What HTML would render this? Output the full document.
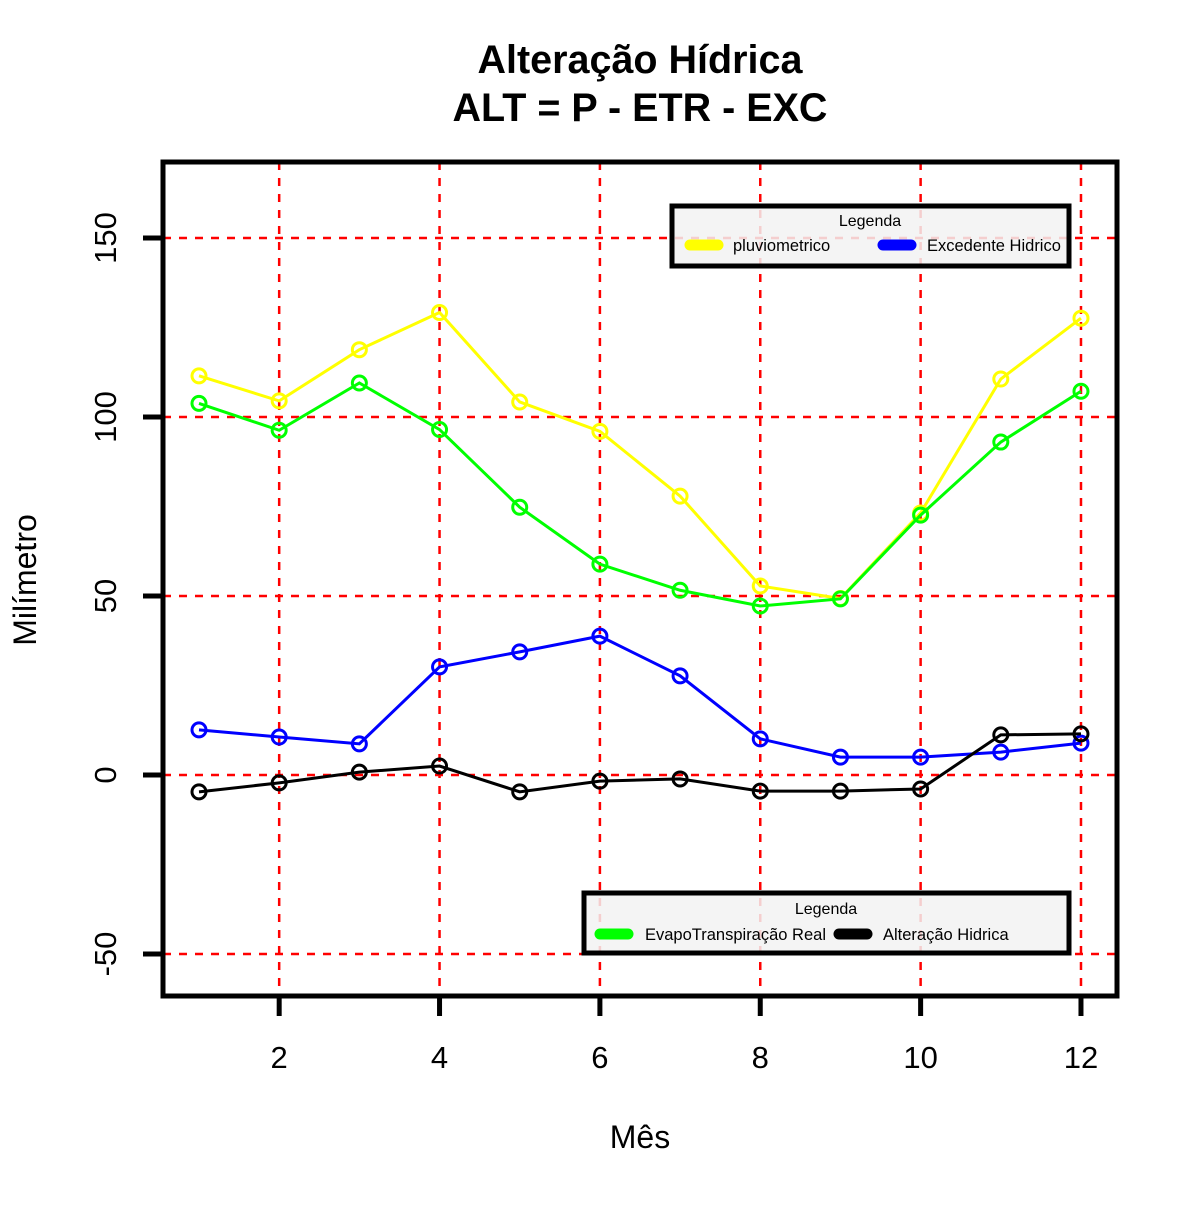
<!DOCTYPE html>
<html><head><meta charset="utf-8"><style>
body{margin:0;background:#fff}
svg text{font-family:"Liberation Sans",sans-serif}
</style></head><body>
<svg id="chart" width="1200" height="1200" xmlns="http://www.w3.org/2000/svg">
<rect width="1200" height="1200" fill="#fff"/>
<text x="640" y="73" font-size="39.5" font-weight="bold" text-anchor="middle">Alteração Hídrica</text>
<text x="640" y="121" font-size="39.5" font-weight="bold" text-anchor="middle">ALT = P - ETR - EXC</text>
<g id="grid"></g>
<g id="series"></g>
<rect x="163" y="162" width="954" height="834" fill="none" stroke="#000" stroke-width="5"/>
<g id="axes"></g>
<text x="640" y="1148" font-size="32" text-anchor="middle">Mês</text>
<text transform="translate(36,580) rotate(-90)" font-size="32" text-anchor="middle">Milímetro</text>
<g>
<rect x="672" y="206" width="397" height="60" fill="rgba(242,242,242,0.85)" stroke="#000" stroke-width="5"/>
<text x="870" y="226" font-size="16" text-anchor="middle">Legenda</text>
<line x1="690" y1="245" x2="718" y2="245" stroke="#ffff00" stroke-width="11" stroke-linecap="round"/>
<text x="733" y="251" font-size="16.5">pluviometrico</text>
<line x1="883" y1="245" x2="911" y2="245" stroke="#0000ff" stroke-width="11" stroke-linecap="round"/>
<text x="927" y="251" font-size="16.5">Excedente Hidrico</text>
</g>
<g>
<rect x="584" y="893" width="485" height="60" fill="rgba(242,242,242,0.85)" stroke="#000" stroke-width="5"/>
<text x="826" y="914" font-size="16" text-anchor="middle">Legenda</text>
<line x1="600" y1="934" x2="628" y2="934" stroke="#00ff00" stroke-width="11" stroke-linecap="round"/>
<text x="645" y="940" font-size="16.5">EvapoTranspiração Real</text>
<line x1="839" y1="934" x2="867" y2="934" stroke="#000" stroke-width="11" stroke-linecap="round"/>
<text x="883" y="940" font-size="16.5">Alteração Hidrica</text>
</g>
</svg>
<script>
const months=[1,2,3,4,5,6,7,8,9,10,11,12];
const pluvio=[111.5,104.5,118.8,129.2,104.2,96,77.9,52.8,49.3,73.2,110.6,127.6];
const etr=[103.8,96.3,109.5,96.5,74.8,58.9,51.6,47.2,49.2,72.6,93,107.2];
const exc=[12.6,10.6,8.7,30.2,34.4,38.8,27.7,10.1,5,5,6.4,8.9];
const alt=[-4.7,-2.2,0.8,2.5,-4.7,-1.7,-1.1,-4.5,-4.5,-3.9,11.2,11.5];
const xTicks=[2,4,6,8,10,12];
const yTicks=[-50,0,50,100,150];
const X=v=>199+(v-1)*80.18;
const Y=v=>775-v*3.58;
const NS="http://www.w3.org/2000/svg";
function mk(t,a,p){const e=document.createElementNS(NS,t);for(const k in a)e.setAttribute(k,a[k]);p.appendChild(e);return e;}
const grid=document.getElementById('grid'),axes=document.getElementById('axes'),ser=document.getElementById('series');
xTicks.forEach(t=>{
 const l=mk('line',{x1:X(t),x2:X(t),y1:162,y2:996,stroke:'#ff0000','stroke-width':2.5,'stroke-dasharray':'8,8'},grid);
 
 
 const k=mk('line',{x1:X(t),x2:X(t),y1:996,y2:1016,stroke:'#000','stroke-width':5},axes);
 
 
 const tx=mk('text',{x:X(t),y:1068,'font-size':31,'text-anchor':'middle'},axes);tx.textContent=t;
 
 
});
yTicks.forEach(t=>{
 const l=mk('line',{x1:163,x2:1117,y1:Y(t),y2:Y(t),stroke:'#ff0000','stroke-width':2.5,'stroke-dasharray':'8,8'},grid);
 
 
 const k=mk('line',{x1:143,x2:163,y1:Y(t),y2:Y(t),stroke:'#000','stroke-width':5},axes);
 
 
 const tx=mk('text',{transform:`translate(116,${Y(t)}) rotate(-90)`,'font-size':31,'text-anchor':'middle'},axes);tx.textContent=t;
 
 
});
[[pluvio,'#ffff00','pluviometrico'],[etr,'#00ff00','etr'],[exc,'#0000ff','excedente'],[alt,'#000000','alteracao']].forEach(([d,c,n])=>{
 const pl=mk('polyline',{points:d.map((v,i)=>X(months[i])+','+Y(v)).join(' '),fill:'none',stroke:c,'stroke-width':3},ser);
 
 
 d.forEach((v,i)=>{
  const p=mk('circle',{cx:X(months[i]),cy:Y(v),r:7,fill:'none',stroke:c,'stroke-width':3},ser);
  
  
 });
});
</script>
</body></html>
